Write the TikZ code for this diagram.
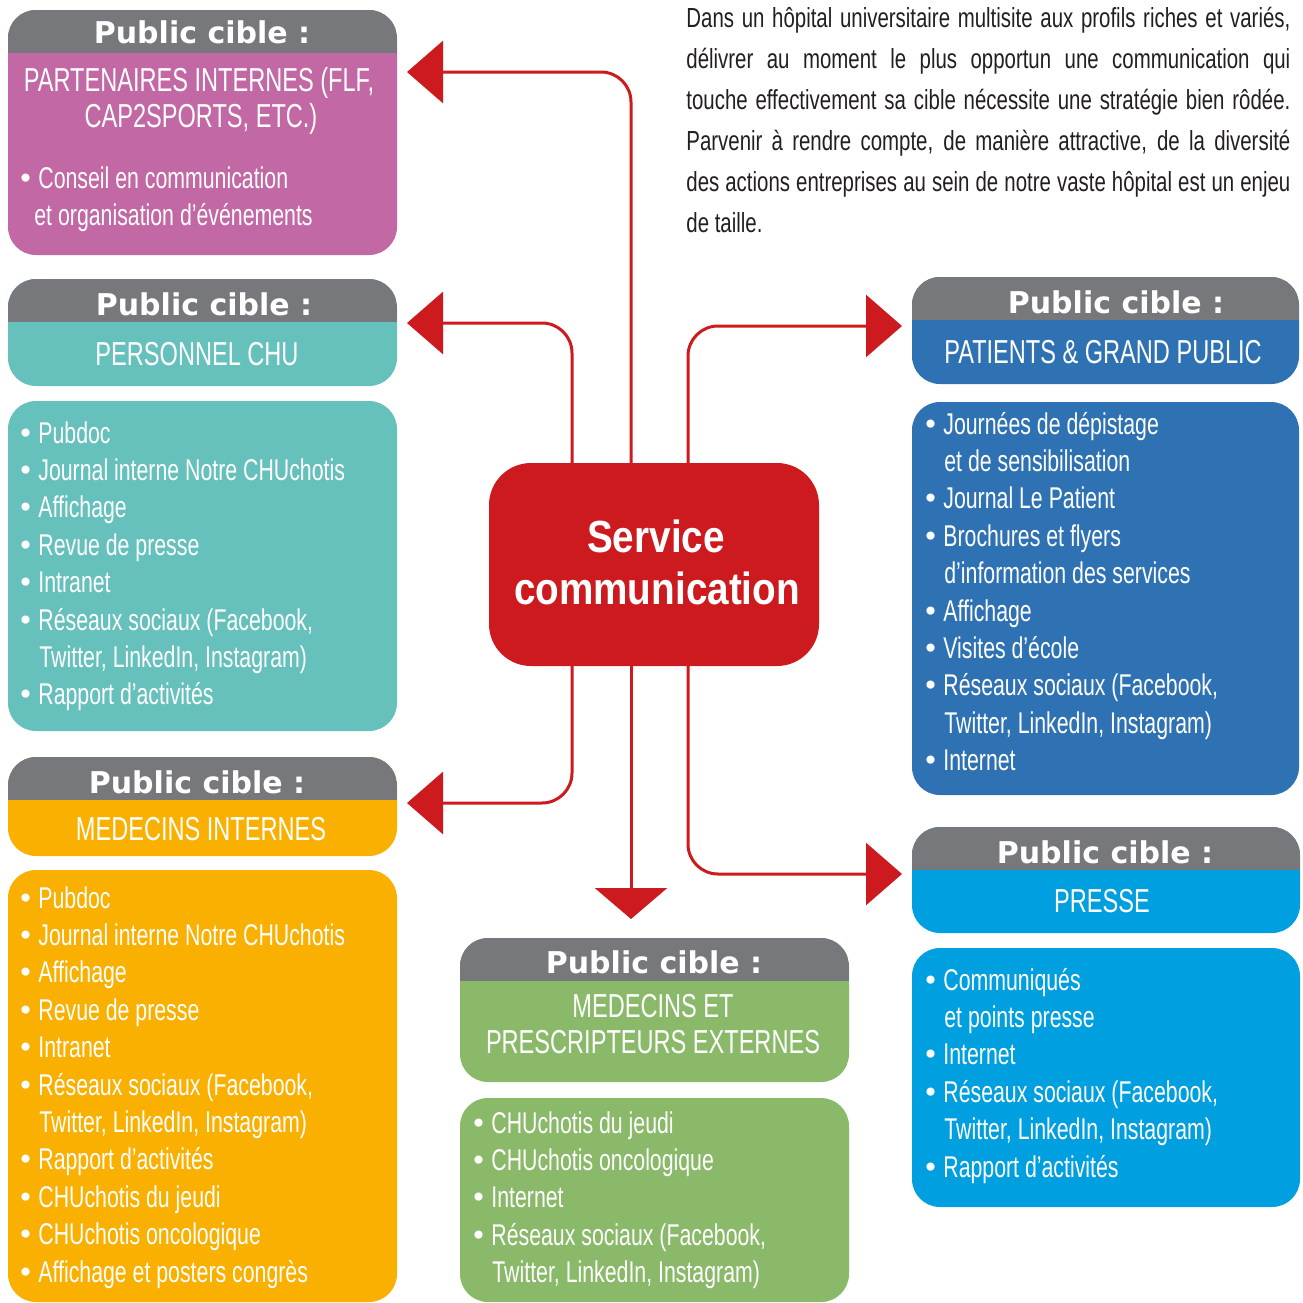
\documentclass[tikz,border=0pt]{standalone}
\usepackage{fontspec}
\setmainfont{Liberation Sans}
\newfontfamily\condf[FakeStretch=0.71]{Liberation Sans}
\newfontfamily\parf[FakeStretch=0.74]{Liberation Sans}
\newfontfamily\titf{DejaVu Sans}
\newfontfamily\cenf[FakeStretch=0.86]{Liberation Sans}
\usetikzlibrary{arrows.meta,fit,calc}
\definecolor{hdrgray}{RGB}{119,120,123}
\definecolor{cpurple}{RGB}{194,104,164}
\definecolor{cteal}{RGB}{102,193,189}
\definecolor{corange}{RGB}{249,176,0}
\definecolor{cgreen}{RGB}{138,185,106}
\definecolor{cblue}{RGB}{47,114,179}
\definecolor{ccyan}{RGB}{0,159,224}
\definecolor{cred}{RGB}{204,26,30}
\definecolor{ctext}{RGB}{35,31,32}
\newcommand{\bul}[1]{\makebox[8.5pt][l]{\hspace*{-2pt}{\titf\fontsize{14pt}{14pt}\selectfont •}}#1}
\newcommand{\cont}[1]{\hspace*{9pt}#1}
\newcommand{\lst}[2]{\parbox[t]{#1}{\fontsize{15pt}{18.7pt}\selectfont #2}}
\begin{document}
\begin{tikzpicture}[x=0.5pt,y=-0.5pt,
  box/.style={inner sep=0pt, outer sep=0pt, rounded corners=14pt},
  hdrbox/.style={box, path picture={\fill[hdrgray, sharp corners] (path picture bounding box.north west) rectangle ([yshift=-21.5pt]path picture bounding box.north east);}},
  ttl/.style={font=\titf\bfseries\fontsize{15pt}{18pt}\selectfont, text=white, anchor=base, inner sep=0pt},
  sub/.style={font=\condf\fontsize{16.6pt}{20pt}\selectfont, text=white, anchor=base, inner sep=0pt},
  lst/.style={font=\condf\fontsize{15pt}{18.7pt}\selectfont, text=white, anchor=base west, inner sep=0pt},
  conn/.style={draw=cred, line width=1.5pt, rounded corners=15pt},
  tipL/.style={-{Triangle[length=18pt,width=31pt]}},
  tipD/.style={-{Triangle[length=15.5pt,width=36pt]}},
  ptxt/.style={font=\parf\fontsize{13.8pt}{16pt}\selectfont, text=ctext, anchor=base west, inner sep=0pt}
]
\useasboundingbox (0,0) rectangle (1303,1303);

% ---------- boxes ----------
\node[hdrbox, fill=cpurple, fit={(8,10) (397,255)}] (part) {};
\node[hdrbox, fill=cteal, fit={(8,279) (397,386)}] (pers) {};
\node[box, fill=cteal, fit={(8,401) (397,731)}] (persl) {};
\node[hdrbox, fill=corange, fit={(8,757) (397,856)}] (medi) {};
\node[box, fill=corange, fit={(8,870) (397,1302)}] (medil) {};
\node[hdrbox, fill=cgreen, fit={(460,938) (849,1082)}] (mext) {};
\node[box, fill=cgreen, fit={(460,1098) (849,1302)}] (mextl) {};
\node[hdrbox, fill=cblue, fit={(912,277) (1299,384)}] (pat) {};
\node[box, fill=cblue, fit={(912,402) (1299,795)}] (patl) {};
\node[hdrbox, fill=ccyan, fit={(912,827) (1300,933)}] (pres) {};
\node[box, fill=ccyan, fit={(912,948) (1300,1207)}] (presl) {};
\node[fill=cred, inner sep=0pt, outer sep=0pt, rounded corners=21pt, fit={(489,463) (819,666)}] (c) {};

% ---------- connectors ----------
\coordinate (aPart) at ($(part.north east)+(10,62)$);
\coordinate (aPers) at ($(pers.north east)+(10,44)$);
\coordinate (aMedi) at ($(medi.north east)+(10,46)$);
\coordinate (aPat) at ($(pat.north west)+(-10,49)$);
\coordinate (aPres) at ($(pres.north west)+(-10,47)$);
\coordinate (aMext) at ($(mext.north)+(-23.5,-19)$);
\draw[conn, tipL] ($(c.north)+(-23,0)$) |- (aPart);
\draw[conn, tipL] ($(c.north)+(-82,0)$) |- (aPers);
\draw[conn, tipL] ($(c.north)+(34,0)$) |- (aPat);
\draw[conn, tipL] ($(c.south)+(-82,0)$) |- (aMedi);
\draw[conn, tipL] ($(c.south)+(34,0)$) |- (aPres);
\draw[conn, tipD] ($(c.south)+(-23,0)$) -- (aMext);

% ---------- central text ----------
\node[font=\cenf\bfseries\fontsize{22.5pt}{26pt}\selectfont, text=white, anchor=base, inner sep=0pt] (c1) at (656,552) {Service};
\node[font=\cenf\bfseries\fontsize{22.5pt}{26pt}\selectfont, text=white, anchor=base, inner sep=0pt] (c2) at (657,604) {communication};

% ---------- titles ----------
\node[ttl] (tPart) at (202,43) {Public cible :};
\node[ttl] (tPers) at (204,315) {Public cible :};
\node[ttl] (tMedi) at (197,793) {Public cible :};
\node[ttl] (tMext) at (654,973) {Public cible :};
\node[ttl] (tPat) at (1116,313) {Public cible :};
\node[ttl] (tPres) at (1105,863) {Public cible :};

% ---------- subtitles ----------
\node[sub] (sPart1) at (199,91) {PARTENAIRES INTERNES (FLF,};
\node[sub] (sPart2) at (201,127) {CAP2SPORTS, ETC.)};
\node[sub] (sPers) at (197,365) {PERSONNEL CHU};
\node[sub] (sMedi) at (201,840) {MEDECINS INTERNES};
\node[sub] (sMext1) at (653,1017) {MEDECINS ET};
\node[sub] (sMext2) at (653,1053) {PRESCRIPTEURS EXTERNES};
\node[sub] (sPat) at (1103,363) {PATIENTS \& GRAND PUBLIC};
\node[sub] (sPres) at (1102,912) {PRESSE};

% ---------- lists ----------
\node[lst] (lPart) at (21,188) {\lst{180pt}{\bul{Conseil en communication}\\ \hspace*{6.5pt}et organisation d’événements}};
\node[lst] (lPers) at (21,443) {\lst{180pt}{\bul{Pubdoc}\\ \bul{Journal interne Notre CHUchotis}\\ \bul{Affichage}\\ \bul{Revue de presse}\\ \bul{Intranet}\\ \bul{Réseaux sociaux (Facebook,}\\ \cont{Twitter, LinkedIn, Instagram)}\\ \bul{Rapport d’activités}}};
\node[lst] (lMedi) at (21,908) {\lst{180pt}{\bul{Pubdoc}\\ \bul{Journal interne Notre CHUchotis}\\ \bul{Affichage}\\ \bul{Revue de presse}\\ \bul{Intranet}\\ \bul{Réseaux sociaux (Facebook,}\\ \cont{Twitter, LinkedIn, Instagram)}\\ \bul{Rapport d’activités}\\ \bul{CHUchotis du jeudi}\\ \bul{CHUchotis oncologique}\\ \bul{Affichage et posters congrès}}};
\node[lst] (lMext) at (474,1133) {\lst{180pt}{\bul{CHUchotis du jeudi}\\ \bul{CHUchotis oncologique}\\ \bul{Internet}\\ \bul{Réseaux sociaux (Facebook,}\\ \cont{Twitter, LinkedIn, Instagram)}}};
\node[lst] (lPat) at (926,434) {\lst{180pt}{\bul{Journées de dépistage}\\ \cont{et de sensibilisation}\\ \bul{Journal Le Patient}\\ \bul{Brochures et flyers}\\ \cont{d’information des services}\\ \bul{Affichage}\\ \bul{Visites d’école}\\ \bul{Réseaux sociaux (Facebook,}\\ \cont{Twitter, LinkedIn, Instagram)}\\ \bul{Internet}}};
\node[lst] (lPres) at (926,990) {\lst{180pt}{\bul{Communiqués}\\ \cont{et points presse}\\ \bul{Internet}\\ \bul{Réseaux sociaux (Facebook,}\\ \cont{Twitter, LinkedIn, Instagram)}\\ \bul{Rapport d’activités}}};

% ---------- paragraph ----------
\node[ptxt] (p1) at (686,27) {\makebox[302pt][s]{Dans un hôpital universitaire multisite aux profils riches et variés,}};
\node[ptxt] (p2) at (686,68) {\makebox[302pt][s]{délivrer au moment le plus opportun une communication qui}};
\node[ptxt] (p3) at (686,109) {\makebox[302pt][s]{touche effectivement sa cible nécessite une stratégie bien rôdée.}};
\node[ptxt] (p4) at (686,150) {\makebox[302pt][s]{Parvenir à rendre compte, de manière attractive, de la diversité}};
\node[ptxt] (p5) at (686,191) {\makebox[302pt][s]{des actions entreprises au sein de notre vaste hôpital est un enjeu}};
\node[ptxt] (p6) at (686,232) {de taille.};
\end{tikzpicture}
\end{document}
